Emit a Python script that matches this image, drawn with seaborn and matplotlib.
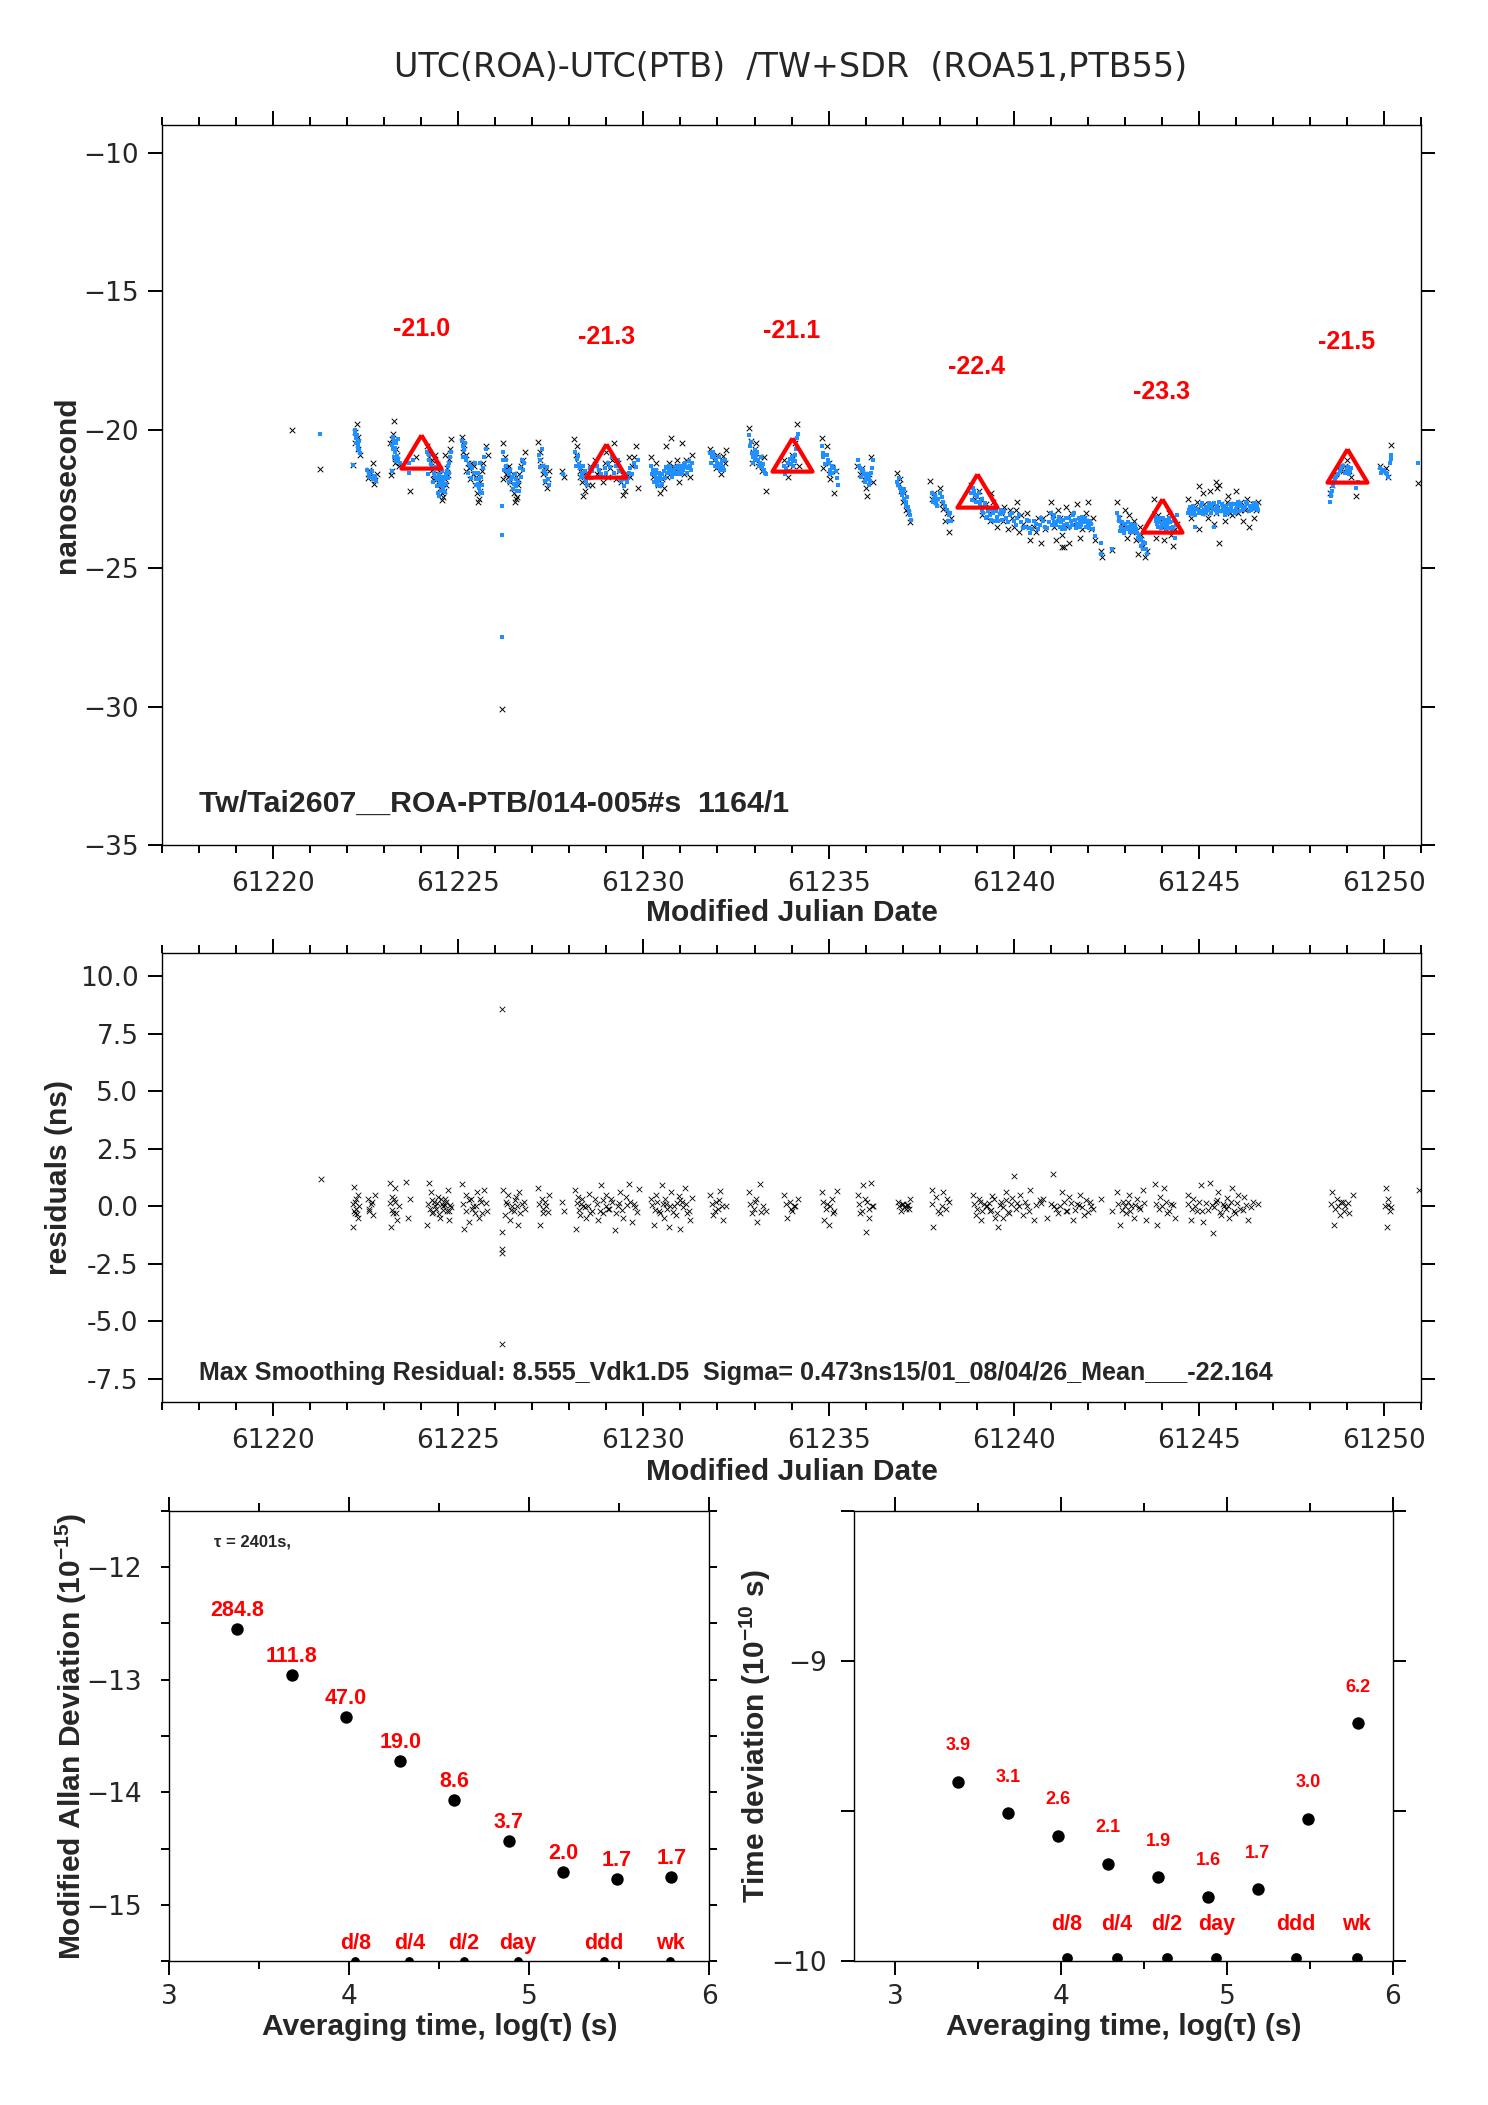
import pandas as pd
import numpy as np
import matplotlib
matplotlib.use("Agg")
import matplotlib.pyplot as plt
import seaborn as sns

# ---------------- data ----------------

# raw measurements (black x), MJD / ns
raw_points = [
    (61220.52, -20.03), (61221.27, -21.41),
    (61222.26, -19.81), (61222.30, -20.25), (61222.22, -20.50), (61222.35, -20.90), (61222.17, -21.26),
    (61222.69, -21.20), (61222.55, -21.74), (61222.75, -21.83), (61222.62, -21.62), (61222.80, -21.60),
    (61223.27, -19.69), (61223.25, -20.17), (61223.15, -20.50), (61223.35, -20.90), (61223.30, -21.00),
    (61223.20, -21.50), (61223.18, -21.64), (61223.40, -21.30),
    (61223.70, -22.22), (61223.85, -21.00),
    (61224.15, -20.60), (61224.20, -21.00), (61224.25, -21.30), (61224.30, -21.10), (61224.35, -21.60),
    (61224.40, -21.70), (61224.45, -21.90), (61224.50, -22.10), (61224.55, -22.30), (61224.60, -22.45),
    (61224.65, -21.80), (61224.70, -21.40), (61224.75, -21.05), (61224.80, -20.35), (61224.38, -20.90),
    (61224.48, -21.50), (61224.58, -21.95), (61224.68, -22.00), (61224.78, -20.70), (61224.28, -21.45),
    (61225.10, -20.25), (61225.15, -20.55), (61225.20, -20.90), (61225.25, -21.20), (61225.30, -21.40),
    (61225.35, -21.20), (61225.40, -21.60), (61225.45, -22.00), (61225.50, -22.30), (61225.55, -22.50),
    (61225.60, -21.90), (61225.65, -21.50), (61225.75, -20.60), (61225.80, -20.90), (61225.52, -22.60),
    (61226.20, -20.50), (61226.25, -21.00), (61226.30, -21.40), (61226.35, -21.70), (61226.40, -21.90),
    (61226.45, -22.10), (61226.50, -22.30), (61226.55, -22.50), (61226.60, -22.00), (61226.65, -21.60),
    (61226.70, -21.30), (61226.80, -20.80), (61226.18, -30.10), (61226.20, -21.80), (61226.58, -22.45),
    (61227.15, -20.45), (61227.20, -20.80), (61227.25, -21.30), (61227.30, -21.60), (61227.35, -21.90),
    (61227.40, -22.10), (61227.45, -21.50),
    (61227.80, -21.50), (61227.85, -21.70),
    (61228.12, -20.35), (61228.18, -20.90), (61228.22, -21.20), (61228.28, -21.50), (61228.35, -21.90),
    (61228.42, -22.20), (61228.48, -21.70), (61228.55, -21.30), (61228.60, -22.00), (61228.38, -22.40),
    (61228.70, -21.10), (61228.80, -21.50), (61228.90, -21.90), (61229.00, -20.80), (61229.10, -21.40),
    (61229.20, -20.50), (61229.30, -21.20), (61229.40, -21.90), (61229.50, -22.20), (61229.55, -21.60),
    (61229.60, -21.00), (61229.70, -21.30), (61229.80, -20.60), (61229.85, -22.10), (61229.45, -22.35),
    (61230.20, -21.00), (61230.30, -21.50), (61230.40, -22.00), (61230.45, -22.30), (61230.50, -21.80),
    (61230.60, -20.60), (61230.70, -21.20), (61230.75, -20.30), (61230.85, -21.50), (61230.95, -21.90),
    (61231.05, -20.50), (61231.15, -21.10), (61231.25, -21.70), (61231.30, -20.90), (61230.55, -22.10),
    (61231.00, -21.30),
    (61231.80, -20.70), (61231.90, -21.10), (61232.00, -20.90), (61232.10, -21.60), (61232.20, -21.20),
    (61232.22, -20.75), (61231.95, -21.40),
    (61232.85, -19.95), (61232.90, -20.40), (61232.95, -20.80), (61233.00, -21.10), (61233.05, -20.50),
    (61233.10, -21.30), (61233.20, -21.50), (61233.25, -21.00), (61233.30, -22.20),
    (61233.80, -21.10), (61233.90, -21.70), (61234.00, -20.90), (61234.10, -20.50), (61234.15, -19.80),
    (61234.20, -21.30),
    (61234.82, -20.30), (61234.85, -21.40), (61234.95, -20.60), (61235.00, -21.60), (61235.05, -21.80),
    (61235.15, -22.30), (61235.20, -21.50),
    (61235.78, -21.30), (61235.85, -21.60), (61235.95, -21.80), (61236.00, -22.10), (61236.05, -22.40),
    (61236.15, -21.00), (61236.20, -21.90),
    (61236.85, -21.55), (61236.90, -21.95), (61236.95, -22.20), (61237.00, -22.60), (61237.10, -22.90),
    (61237.20, -23.35), (61237.15, -23.00),
    (61237.75, -21.85), (61237.80, -22.50), (61237.90, -22.60), (61238.00, -22.10), (61238.10, -22.85),
    (61238.20, -23.00), (61238.25, -23.70), (61238.15, -23.30),
    (61238.85, -22.00), (61238.95, -22.50), (61239.05, -22.20), (61239.15, -23.10), (61239.25, -22.70),
    (61239.35, -23.30), (61239.45, -22.60), (61239.55, -23.50), (61239.65, -23.00), (61239.75, -22.80),
    (61239.85, -23.60), (61239.95, -23.20), (61240.05, -22.90), (61240.15, -23.70), (61240.25, -23.40),
    (61240.35, -23.00), (61240.45, -24.00), (61240.55, -23.50), (61240.65, -23.20), (61240.75, -24.10),
    (61240.85, -23.60), (61240.95, -23.00), (61239.40, -22.30), (61240.10, -22.60),
    (61241.00, -22.60), (61241.10, -23.50), (61241.20, -22.90), (61241.30, -23.80), (61241.40, -22.80),
    (61241.50, -24.10), (61241.60, -23.40), (61241.70, -22.70), (61241.80, -23.90), (61241.90, -23.20),
    (61242.00, -22.60), (61242.10, -23.60), (61242.20, -24.00), (61241.15, -24.00), (61241.30, -24.25),
    (61241.35, -24.25),
    (61242.35, -24.40), (61242.38, -24.60), (61242.65, -24.35),
    (61242.80, -22.60), (61242.85, -23.20), (61242.95, -23.50), (61243.05, -23.90), (61243.10, -23.10),
    (61243.20, -23.70), (61243.30, -24.00), (61243.35, -24.50), (61243.40, -23.50), (61243.50, -24.20),
    (61243.55, -24.60), (61243.60, -24.40), (61243.00, -22.90),
    (61243.80, -22.50), (61243.90, -23.10), (61244.00, -23.50), (61244.05, -24.00), (61244.15, -23.30),
    (61244.25, -23.80), (61244.30, -24.20), (61244.40, -23.40), (61243.85, -23.90),
    (61244.70, -22.50), (61244.80, -23.20), (61244.90, -22.80), (61245.00, -23.60), (61245.10, -22.30),
    (61245.20, -23.00), (61245.30, -22.20), (61245.40, -23.40), (61245.50, -22.10), (61245.60, -22.70),
    (61245.70, -23.30), (61245.80, -22.40), (61245.90, -23.10), (61246.00, -22.20), (61246.10, -22.90),
    (61246.20, -23.30), (61246.30, -22.50), (61246.40, -22.80), (61246.50, -23.20), (61246.60, -22.60),
    (61245.45, -21.90), (61245.55, -22.00), (61245.00, -22.05), (61246.35, -23.50), (61245.55, -24.10),
    (61248.55, -22.30), (61248.60, -22.00), (61248.65, -21.80), (61248.80, -21.30), (61248.90, -21.50),
    (61249.00, -21.10), (61249.10, -21.70), (61249.25, -22.40),
    (61249.90, -21.30), (61250.00, -21.50), (61250.10, -21.70), (61250.20, -20.55),
    (61250.92, -21.94),
]

# more raw points inside the dense clusters
raw_points_dense = [
    (61222.20, -20.10), (61222.28, -20.70), (61222.60, -21.45), (61222.72, -21.95),
    (61223.22, -20.35), (61223.32, -20.70), (61223.28, -21.20),
    (61224.22, -20.80), (61224.32, -21.80), (61224.42, -21.25), (61224.52, -21.75), (61224.62, -22.20),
    (61224.72, -21.65), (61224.56, -22.55), (61224.64, -20.90),
    (61225.12, -20.80), (61225.22, -21.50), (61225.32, -21.80), (61225.42, -21.30), (61225.48, -21.70),
    (61225.58, -22.20), (61225.68, -21.20),
    (61226.28, -21.60), (61226.38, -21.30), (61226.48, -21.60), (61226.52, -22.60), (61226.62, -21.80),
    (61226.75, -21.10),
    (61227.22, -21.10), (61227.32, -21.40), (61227.42, -21.80),
    (61228.20, -20.60), (61228.30, -21.70), (61228.40, -21.60), (61228.50, -22.00),
    (61228.75, -21.60), (61228.95, -21.20), (61229.05, -21.70), (61229.15, -21.10), (61229.25, -21.80),
    (61229.35, -21.50), (61229.65, -21.70), (61229.75, -21.00),
    (61230.25, -21.70), (61230.35, -21.20), (61230.65, -21.70), (61230.80, -21.30), (61230.90, -21.10),
    (61231.10, -21.60), (61231.20, -21.30),
    (61232.05, -21.30), (61232.15, -20.95),
    (61232.92, -21.20), (61233.02, -20.70), (61233.15, -21.00),
    (61233.85, -21.40), (61233.95, -21.20), (61234.05, -21.30),
    (61235.02, -21.20), (61235.10, -21.35),
    (61235.90, -21.40), (61236.10, -21.60),
    (61237.05, -22.30), (61236.92, -21.80),
    (61237.85, -22.30), (61238.05, -22.70), (61238.30, -23.20),
    (61239.10, -22.50), (61239.30, -22.90), (61239.50, -22.90), (61239.70, -23.30), (61239.90, -22.90),
    (61240.00, -23.50), (61240.20, -23.10), (61240.40, -23.50), (61240.60, -23.70), (61240.80, -23.20),
    (61241.05, -23.10), (61241.25, -23.20), (61241.45, -23.50), (61241.55, -23.00), (61241.75, -23.30),
    (61241.85, -23.60), (61241.95, -23.00), (61242.05, -23.30), (61242.15, -23.20),
    (61242.90, -23.40), (61243.15, -23.50), (61243.25, -23.30), (61243.45, -23.80),
    (61243.95, -23.30), (61244.10, -23.60), (61244.20, -23.00), (61244.35, -23.60),
    (61244.75, -22.90), (61244.85, -23.00), (61244.95, -22.60), (61245.05, -22.90), (61245.15, -22.70),
    (61245.25, -23.20), (61245.35, -22.80), (61245.45, -23.00), (61245.65, -22.90), (61245.75, -22.60),
    (61245.85, -23.00), (61245.95, -22.70), (61246.05, -23.00), (61246.15, -22.60), (61246.25, -22.90),
    (61246.45, -22.70), (61246.55, -22.90),
    (61248.70, -21.60), (61248.95, -21.30), (61249.05, -21.50),
    (61250.05, -21.40),
]

# smoothed values (blue dots), MJD / ns
smooth_points = [
    (61221.27, -20.17),
    (61222.20, -20.00), (61222.22, -20.15), (61222.25, -20.30), (61222.28, -20.45), (61222.30, -20.60),
    (61222.33, -20.75), (61222.35, -20.85), (61222.17, -21.28),
    (61222.53, -21.46), (61222.60, -21.56), (61222.75, -21.72), (61222.72, -21.67), (61222.78, -21.86),
    (61223.25, -20.25), (61223.27, -20.40), (61223.22, -20.55), (61223.30, -20.65), (61223.28, -20.80),
    (61223.35, -20.95), (61223.38, -21.05), (61223.42, -21.20), (61223.20, -21.50),
    (61223.67, -21.20), (61223.78, -21.10), (61223.66, -21.55),
    (61224.15, -20.80), (61224.20, -21.10), (61224.25, -21.25), (61224.30, -21.40), (61224.35, -21.55),
    (61224.38, -21.70), (61224.42, -21.80), (61224.45, -21.75), (61224.50, -21.90), (61224.52, -22.00),
    (61224.55, -21.85), (61224.58, -22.10), (61224.60, -22.00), (61224.62, -21.80), (61224.65, -21.70),
    (61224.68, -21.60), (61224.70, -21.50), (61224.72, -21.30), (61224.75, -21.20), (61224.78, -21.00),
    (61224.80, -20.80), (61224.45, -22.30), (61224.48, -22.40),
    (61225.10, -20.40), (61225.12, -20.60), (61225.15, -20.75), (61225.20, -21.00), (61225.22, -21.10),
    (61225.28, -21.25), (61225.32, -21.30), (61225.38, -21.40), (61225.42, -21.55), (61225.48, -21.80),
    (61225.52, -21.95), (61225.55, -22.10), (61225.58, -22.25), (61225.62, -21.70), (61225.68, -21.40),
    (61225.75, -20.70), (61225.60, -21.20),
    (61226.20, -20.80), (61226.22, -21.10), (61226.28, -21.30), (61226.32, -21.50), (61226.38, -21.60),
    (61226.42, -21.80), (61226.45, -21.70), (61226.50, -21.95), (61226.55, -22.05), (61226.58, -22.20),
    (61226.62, -21.90), (61226.68, -21.40), (61226.72, -21.10), (61226.78, -21.20), (61226.18, -22.76),
    (61226.18, -23.80), (61226.18, -27.50),
    (61227.18, -20.90), (61227.22, -21.10), (61227.28, -21.30), (61227.32, -21.50), (61227.38, -21.60),
    (61227.42, -21.80),
    (61227.82, -21.60),
    (61228.15, -20.80), (61228.20, -21.05), (61228.25, -21.25), (61228.30, -21.40), (61228.35, -21.55),
    (61228.40, -21.70), (61228.45, -21.85), (61228.50, -21.60), (61228.55, -21.40), (61228.60, -21.50),
    (61228.75, -21.30), (61228.85, -21.60), (61228.95, -21.40), (61229.05, -21.20), (61229.15, -21.00),
    (61229.25, -21.30), (61229.35, -21.50), (61229.45, -21.70), (61229.50, -21.80), (61229.55, -21.90),
    (61229.65, -21.40), (61229.75, -21.20), (61229.85, -21.10), (61229.40, -21.85), (61229.60, -21.55),
    (61230.20, -21.30), (61230.25, -21.45), (61230.30, -21.60), (61230.35, -21.75), (61230.40, -21.85),
    (61230.45, -21.70), (61230.50, -21.60), (61230.55, -21.50), (61230.60, -21.35), (61230.65, -21.40),
    (61230.70, -21.50), (61230.75, -21.55), (61230.80, -21.45), (61230.85, -21.35), (61230.90, -21.40),
    (61230.95, -21.50), (61231.00, -21.45), (61231.05, -21.30), (61231.10, -21.25), (61231.15, -21.35),
    (61231.20, -21.40), (61231.25, -21.30), (61231.30, -21.20), (61230.45, -22.05), (61230.50, -21.95),
    (61231.80, -20.85), (61231.85, -21.00), (61231.90, -20.95), (61231.95, -21.10), (61232.00, -21.20),
    (61232.05, -21.30), (61232.10, -21.25), (61232.15, -21.35), (61232.20, -21.10),
    (61232.85, -20.20), (61232.88, -20.60), (61232.92, -20.85), (61232.95, -21.00), (61233.00, -20.75),
    (61233.05, -20.90), (61233.10, -21.10), (61233.15, -21.20), (61233.20, -21.35), (61233.25, -21.45),
    (61233.30, -21.60),
    (61233.80, -21.30), (61233.82, -21.60), (61233.90, -21.20), (61233.95, -21.05), (61234.00, -21.00),
    (61234.05, -21.10), (61234.10, -20.90), (61234.15, -20.30), (61234.18, -20.15),
    (61234.82, -20.60), (61234.84, -20.85), (61234.86, -21.00), (61234.95, -20.90), (61235.00, -21.20),
    (61235.05, -21.45), (61235.10, -21.55), (61235.20, -21.50), (61235.25, -22.00),
    (61235.80, -21.10), (61235.85, -21.40), (61235.90, -21.50), (61235.95, -21.60), (61236.00, -21.75),
    (61236.05, -21.80), (61236.10, -21.70), (61236.15, -21.55), (61236.20, -21.10),
    (61236.85, -21.90), (61236.88, -22.00), (61236.92, -22.10), (61236.95, -22.20), (61237.00, -22.30),
    (61237.05, -22.50), (61237.10, -22.60), (61237.15, -22.80), (61237.20, -23.10),
    (61237.78, -22.30), (61237.85, -22.50), (61237.90, -22.65), (61237.95, -22.50), (61238.00, -22.30),
    (61238.10, -22.60), (61238.20, -22.90), (61238.25, -23.10), (61238.30, -23.30),
    (61238.85, -22.30), (61238.90, -22.10), (61238.95, -22.35), (61239.00, -22.45), (61239.10, -22.60),
    (61239.15, -22.90), (61239.20, -22.80), (61239.30, -22.95), (61239.35, -23.10), (61239.45, -23.00),
    (61239.55, -23.15), (61239.65, -22.90), (61239.70, -23.00), (61239.80, -23.20), (61239.90, -23.10),
    (61240.00, -23.30), (61240.10, -23.20), (61240.20, -23.35), (61240.30, -23.50), (61240.40, -23.30),
    (61240.50, -23.60), (61240.60, -23.40), (61240.70, -23.45), (61240.80, -23.30), (61240.90, -23.55),
    (61239.25, -23.20), (61240.45, -23.75),
    (61241.00, -23.00), (61241.05, -23.20), (61241.10, -23.35), (61241.20, -23.30), (61241.25, -23.50),
    (61241.35, -23.45), (61241.40, -23.20), (61241.45, -23.40), (61241.55, -23.30), (61241.60, -23.10),
    (61241.65, -23.25), (61241.70, -23.40), (61241.80, -23.30), (61241.85, -23.15), (61241.90, -23.35),
    (61241.95, -23.50), (61242.00, -23.45), (61242.05, -23.30), (61242.15, -23.60), (61241.30, -23.60),
    (61242.35, -24.10), (61242.65, -24.30), (61242.36, -24.50),
    (61242.80, -23.00), (61242.85, -23.30), (61242.90, -23.50), (61242.95, -23.60), (61243.00, -23.40),
    (61243.05, -23.50), (61243.10, -23.60), (61243.15, -23.70), (61243.20, -23.55), (61243.30, -23.60),
    (61243.35, -23.90), (61243.40, -24.00), (61243.45, -24.20), (61243.50, -24.30), (61243.55, -24.10),
    (61243.60, -24.50),
    (61243.80, -23.00), (61243.85, -23.30), (61243.90, -23.50), (61243.95, -23.20), (61244.00, -23.40),
    (61244.05, -23.30), (61244.10, -23.60), (61244.15, -23.40), (61244.20, -23.20), (61244.30, -23.50),
    (61244.35, -23.90), (61244.40, -23.10),
    (61244.70, -23.00), (61244.75, -22.80), (61244.85, -22.90), (61244.90, -23.10), (61245.00, -23.00),
    (61245.05, -22.75), (61245.15, -22.90), (61245.20, -23.00), (61245.30, -22.80), (61245.35, -22.70),
    (61245.45, -22.90), (61245.50, -22.75), (61245.55, -22.60), (61245.65, -22.80), (61245.70, -23.10),
    (61245.75, -22.90), (61245.85, -22.70), (61245.90, -22.95), (61246.00, -22.85), (61246.05, -22.60),
    (61246.15, -22.75), (61246.20, -22.90), (61246.30, -22.70), (61246.35, -22.95), (61246.45, -22.80),
    (61246.55, -22.70), (61246.60, -22.90), (61245.40, -23.50), (61244.90, -23.50),
    (61248.55, -22.60), (61248.58, -22.40), (61248.60, -22.20), (61248.65, -21.90), (61248.70, -21.70),
    (61248.80, -21.50), (61248.90, -21.30), (61249.00, -21.45), (61249.05, -21.60), (61249.25, -22.10),
    (61249.30, -21.90),
    (61249.90, -21.40), (61249.95, -21.50), (61250.05, -21.55), (61250.10, -21.70), (61250.15, -21.20),
    (61250.20, -20.90),
    (61250.92, -21.22),
]

# more smoothed points inside the dense blobs
smooth_points_dense = [
    (61222.24, -20.50), (61222.27, -20.20), (61222.32, -20.40), (61222.29, -20.70),
    (61222.58, -21.70), (61222.66, -21.50), (61222.70, -21.80),
    (61223.24, -20.70), (61223.33, -20.50), (61223.26, -21.00), (61223.36, -20.35), (61223.31, -21.15),
    (61224.18, -21.60), (61224.22, -20.90), (61224.33, -21.90), (61224.40, -21.35), (61224.47, -21.60),
    (61224.53, -22.20), (61224.57, -21.50), (61224.63, -22.25), (61224.66, -21.95), (61224.71, -21.75),
    (61224.74, -21.55), (61224.56, -21.70), (61224.43, -22.05),
    (61225.14, -21.00), (61225.18, -20.50), (61225.26, -21.55), (61225.34, -21.75), (61225.44, -21.20),
    (61225.47, -22.00), (61225.53, -21.55), (61225.57, -21.80), (61225.65, -22.00), (61225.70, -21.00),
    (61225.63, -22.30),
    (61226.24, -21.45), (61226.30, -21.10), (61226.36, -21.90), (61226.40, -21.45), (61226.47, -22.15),
    (61226.52, -21.60), (61226.57, -21.80), (61226.64, -22.20), (61226.70, -21.70), (61226.75, -21.45),
    (61227.20, -21.35), (61227.26, -20.70), (61227.34, -21.85), (61227.40, -21.35), (61227.44, -22.00),
    (61228.17, -21.30), (61228.23, -20.95), (61228.32, -21.70), (61228.37, -21.30), (61228.43, -21.50),
    (61228.48, -22.00), (61228.58, -21.75),
    (61228.80, -21.45), (61228.90, -21.70), (61229.00, -21.55), (61229.10, -21.35), (61229.20, -21.55),
    (61229.30, -21.10), (61229.42, -21.50), (61229.48, -22.05), (61229.58, -21.75), (61229.70, -21.60),
    (61229.80, -21.35), (61229.52, -21.60),
    (61230.22, -21.60), (61230.28, -21.90), (61230.33, -21.45), (61230.38, -22.00), (61230.42, -21.55),
    (61230.48, -21.80), (61230.58, -21.75), (61230.63, -21.55), (61230.68, -21.30), (61230.73, -21.35),
    (61230.78, -21.70), (61230.83, -21.55), (61230.88, -21.60), (61230.93, -21.30), (61230.98, -21.60),
    (61231.03, -21.55), (61231.08, -21.45), (61231.13, -21.20), (61231.18, -21.55), (61231.23, -21.15),
    (61231.28, -21.45),
    (61231.83, -21.20), (61231.88, -20.80), (61231.98, -21.35), (61232.03, -21.00), (61232.08, -21.45),
    (61232.13, -21.15), (61232.18, -21.45), (61231.92, -21.30),
    (61232.90, -20.45), (61232.97, -21.20), (61233.02, -21.05), (61233.08, -20.80), (61233.12, -21.30),
    (61233.18, -21.00), (61233.22, -21.25), (61233.28, -21.55),
    (61233.85, -21.40), (61233.92, -21.50), (61233.98, -21.25), (61234.03, -21.30), (61234.08, -21.15),
    (61234.12, -20.70),
    (61234.90, -21.25), (61234.98, -21.10), (61235.03, -21.60), (61235.08, -21.30), (61235.15, -21.40),
    (61235.22, -21.75),
    (61235.82, -21.30), (61235.88, -21.70), (61235.93, -21.45), (61235.98, -21.90), (61236.03, -21.60),
    (61236.08, -22.00), (61236.13, -21.85), (61236.18, -21.40),
    (61236.90, -21.75), (61236.97, -22.35), (61237.03, -22.15), (61237.08, -22.75), (61237.13, -22.45),
    (61237.18, -22.95), (61237.22, -23.25),
    (61237.82, -22.60), (61237.88, -22.35), (61237.93, -22.75), (61238.05, -22.45), (61238.15, -22.75),
    (61238.22, -23.30), (61238.28, -23.00),
    (61238.88, -22.55), (61238.93, -22.20), (61238.98, -22.60), (61239.05, -22.30), (61239.08, -22.75),
    (61239.13, -22.50), (61239.18, -23.00), (61239.23, -22.65), (61239.28, -23.15), (61239.33, -22.85),
    (61239.38, -23.25), (61239.43, -22.85), (61239.48, -23.30), (61239.52, -22.95), (61239.58, -23.30),
    (61239.62, -23.05), (61239.68, -23.25), (61239.75, -22.95), (61239.85, -23.35), (61239.95, -23.00),
    (61240.05, -23.45), (61240.15, -23.10), (61240.25, -23.55), (61240.35, -23.25), (61240.42, -23.55),
    (61240.55, -23.30), (61240.65, -23.60), (61240.75, -23.20), (61240.85, -23.50), (61240.95, -23.35),
    (61241.03, -23.45), (61241.08, -23.10), (61241.15, -23.45), (61241.23, -23.15), (61241.28, -23.35),
    (61241.33, -23.25), (61241.38, -23.60), (61241.48, -23.20), (61241.52, -23.50), (61241.58, -23.45),
    (61241.63, -23.00), (61241.68, -23.55), (61241.75, -23.20), (61241.78, -23.50), (61241.83, -23.45),
    (61241.88, -23.25), (61241.93, -23.20), (61241.98, -23.30), (61242.03, -23.55), (61242.10, -23.40),
    (61242.20, -23.85),
    (61242.83, -23.15), (61242.88, -23.65), (61242.93, -23.35), (61242.98, -23.75), (61243.03, -23.60),
    (61243.08, -23.35), (61243.13, -23.55), (61243.18, -23.40), (61243.23, -23.70), (61243.28, -23.45),
    (61243.33, -23.75), (61243.38, -23.80), (61243.43, -23.95), (61243.48, -24.05), (61243.58, -24.30),
    (61243.83, -23.15), (61243.88, -23.40), (61243.93, -23.35), (61243.98, -23.55), (61244.03, -23.20),
    (61244.08, -23.45), (61244.13, -23.25), (61244.18, -23.55), (61244.23, -23.35), (61244.28, -23.65),
    (61244.33, -23.30), (61244.38, -23.45),
    (61244.73, -22.90), (61244.78, -23.05), (61244.83, -22.75), (61244.88, -23.00), (61244.95, -22.85),
    (61245.03, -22.95), (61245.08, -22.65), (61245.12, -23.05), (61245.18, -22.80), (61245.25, -22.90),
    (61245.28, -22.65), (61245.33, -23.00), (61245.38, -22.85), (61245.42, -22.65), (61245.48, -23.00),
    (61245.53, -22.85), (61245.58, -22.95), (61245.62, -22.70), (61245.68, -22.95), (61245.73, -22.75),
    (61245.78, -23.00), (61245.82, -22.85), (61245.88, -22.80), (61245.95, -22.70), (61245.98, -23.00),
    (61246.03, -22.75), (61246.08, -22.95), (61246.12, -22.65), (61246.18, -22.85), (61246.25, -22.80),
    (61246.28, -22.60), (61246.38, -22.75), (61246.42, -22.90), (61246.48, -22.65), (61246.52, -22.85),
    (61246.58, -22.75),
    (61248.57, -22.30), (61248.62, -22.05), (61248.68, -21.80), (61248.75, -21.60), (61248.85, -21.40),
    (61248.95, -21.55), (61249.02, -21.35), (61249.08, -21.50), (61249.12, -21.40),
    (61249.92, -21.55), (61250.00, -21.45), (61250.08, -21.60), (61250.18, -21.05),
]

# 5-day means (red triangles)
tri_mjd = [61224, 61229, 61234, 61239, 61244, 61249]
tri_ns = [-21.0, -21.3, -21.1, -22.4, -23.3, -21.5]

# smoothing residuals, MJD / ns
resid_points = [
    (61221.30, 1.20),
    (61222.15, -0.90), (61222.18, 0.85), (61222.20, -0.30), (61222.22, 0.20), (61222.25, -0.10),
    (61222.28, 0.50), (61222.30, -0.50),
    (61222.55, 0.30), (61222.60, -0.20), (61222.65, 0.10), (61222.70, -0.40), (61222.75, 0.50),
    (61223.15, 1.00), (61223.18, -0.90), (61223.20, 0.40), (61223.25, -0.30), (61223.28, 0.20),
    (61223.30, 0.80), (61223.35, -0.60), (61223.40, 0.00),
    (61223.60, 1.05), (61223.65, -0.50), (61223.70, 0.30),
    (61224.15, -0.80), (61224.20, 1.00), (61224.25, 0.60), (61224.30, -0.30), (61224.35, 0.20),
    (61224.40, -0.10), (61224.45, 0.40), (61224.50, -0.50), (61224.55, 0.10), (61224.60, 0.00),
    (61224.65, 0.30), (61224.70, -0.20), (61224.72, 0.70), (61224.75, -0.60), (61224.78, 0.05),
    (61224.80, -0.05),
    (61225.10, 0.95), (61225.15, -1.00), (61225.20, 0.50), (61225.28, -0.70), (61225.35, 0.30),
    (61225.40, 0.00), (61225.45, -0.30), (61225.50, 0.60), (61225.55, -0.50), (61225.62, 0.20),
    (61225.70, 0.70), (61225.78, -0.20),
    (61226.18, 8.55), (61226.18, -1.10), (61226.18, -1.85), (61226.18, -2.05), (61226.18, -6.00),
    (61226.22, 0.70), (61226.25, -0.40),
    (61226.30, 0.20), (61226.35, 0.50), (61226.40, -0.60), (61226.45, 0.00), (61226.50, -0.20),
    (61226.55, 0.40), (61226.60, -0.80), (61226.65, 0.60), (61226.72, 0.10), (61226.80, -0.10),
    (61227.15, 0.80), (61227.20, -0.80), (61227.25, 0.30), (61227.30, -0.30), (61227.38, 0.00),
    (61227.45, 0.50),
    (61227.80, 0.20), (61227.85, -0.20),
    (61228.15, 0.70), (61228.18, -1.00), (61228.22, 0.40), (61228.28, -0.40), (61228.32, 0.10),
    (61228.38, 0.00), (61228.45, -0.50), (61228.52, 0.55), (61228.60, -0.20),
    (61228.70, 0.30), (61228.78, -0.60), (61228.85, 0.90), (61228.92, -0.30), (61229.00, 0.50),
    (61229.08, -0.10), (61229.15, 0.20), (61229.22, -1.05), (61229.30, 0.00), (61229.38, 0.60),
    (61229.45, -0.50), (61229.52, 0.40), (61229.60, 0.95), (61229.68, -0.70), (61229.75, 0.10),
    (61229.82, -0.25), (61229.88, 0.75),
    (61230.20, 0.30), (61230.28, -0.80), (61230.35, 0.50), (61230.42, -0.20), (61230.50, 0.90),
    (61230.55, -0.50), (61230.62, 0.10), (61230.70, -0.90), (61230.75, 0.60), (61230.82, 0.00),
    (61230.88, -0.40), (61230.95, 0.45), (61231.00, -1.00), (61231.05, 0.20), (61231.12, 0.80),
    (61231.18, -0.30), (61231.25, -0.60), (61231.30, 0.35),
    (61231.80, 0.50), (61231.88, -0.40), (61231.95, 0.20), (61232.02, -0.10), (61232.08, 0.65),
    (61232.15, -0.60), (61232.22, 0.00),
    (61232.85, 0.60), (61232.92, -0.30), (61233.00, 0.20), (61233.08, -0.70), (61233.15, 0.95),
    (61233.22, 0.00), (61233.30, -0.20),
    (61233.80, 0.50), (61233.88, -0.50), (61233.95, 0.20), (61234.02, -0.20), (61234.10, 0.00),
    (61234.18, 0.30),
    (61234.82, 0.60), (61234.88, -0.60), (61234.95, 0.10), (61235.02, -0.80), (61235.08, 0.30),
    (61235.15, -0.20), (61235.22, 0.65),
    (61235.80, 0.50), (61235.85, -0.30), (61235.92, 0.90), (61236.00, -1.10), (61236.05, 0.20),
    (61236.10, -0.50), (61236.15, 1.00), (61236.20, 0.00),
    (61236.88, 0.20), (61236.95, -0.20), (61237.00, 0.10), (61237.08, -0.10), (61237.15, 0.05),
    (61237.20, 0.30),
    (61237.78, 0.70), (61237.82, -0.90), (61237.90, 0.40), (61238.00, -0.30), (61238.08, 0.60),
    (61238.18, -0.10), (61238.25, 0.20),
    (61238.90, 0.50), (61238.98, -0.40), (61239.05, 0.30), (61239.12, -0.60), (61239.20, 0.10),
    (61239.28, 0.00), (61239.35, -0.20), (61239.42, 0.45), (61239.50, -0.50), (61239.58, -0.90),
    (61239.65, 0.20), (61239.72, -0.50), (61239.80, 0.60), (61239.88, -0.30), (61239.95, 0.35),
    (61240.02, 1.30), (61240.10, 0.15), (61240.18, 0.50), (61240.25, -0.40), (61240.35, 0.00),
    (61240.45, 0.70), (61240.55, -0.60), (61240.70, 0.25),
    (61240.80, 0.30), (61240.90, -0.50), (61241.05, 1.40), (61241.10, 0.00), (61241.20, -0.30),
    (61241.30, 0.60), (61241.40, -0.20), (61241.50, 0.40), (61241.60, -0.60), (61241.70, 0.10),
    (61241.80, 0.50), (61241.90, -0.40), (61242.05, 0.20), (61242.15, -0.10),
    (61242.35, 0.30), (61242.65, -0.20),
    (61242.80, 0.60), (61242.88, -0.80), (61242.95, 0.20), (61243.02, -0.30), (61243.10, 0.50),
    (61243.18, 0.00), (61243.25, -0.50), (61243.32, 0.30), (61243.40, -0.10), (61243.48, 0.70),
    (61243.58, -0.60),
    (61243.82, 0.95), (61243.88, -0.80), (61243.95, 0.40), (61244.05, 0.80), (61244.15, -0.30),
    (61244.25, 0.10), (61244.35, -0.50),
    (61244.70, 0.50), (61244.78, -0.60), (61244.85, 0.30), (61244.95, -0.20), (61245.05, 0.90),
    (61245.12, -0.70), (61245.30, 1.00), (61245.38, -1.15), (61245.45, 0.20), (61245.52, 0.60),
    (61245.60, -0.40), (61245.68, 0.00), (61245.75, 0.35), (61245.82, -0.50), (61245.90, 0.80),
    (61245.98, -0.30), (61246.05, 0.50), (61246.12, -0.10), (61246.22, 0.40), (61246.32, -0.60),
    (61246.45, 0.20), (61246.60, 0.10),
    (61248.60, 0.60), (61248.65, -0.80), (61248.72, 0.30), (61248.80, -0.40), (61248.88, 0.20),
    (61248.95, 0.00), (61249.05, -0.30), (61249.15, 0.50),
    (61250.05, 0.80), (61250.08, -0.90), (61250.12, 0.30), (61250.15, -0.20),
    (61250.95, 0.70),
]

# residual cores near zero inside each cluster
resid_points_dense = [
    (61222.16, 0.10), (61222.19, -0.20), (61222.23, 0.30), (61222.27, -0.35), (61222.32, 0.00),
    (61222.58, -0.10), (61222.68, 0.20),
    (61223.16, 0.15), (61223.22, -0.15), (61223.27, 0.30), (61223.33, -0.30),
    (61224.18, 0.10), (61224.23, -0.10), (61224.28, 0.25), (61224.33, -0.25), (61224.38, 0.00),
    (61224.43, 0.15), (61224.48, -0.35), (61224.53, 0.30), (61224.58, -0.15), (61224.63, 0.05),
    (61224.68, 0.20), (61224.76, -0.20),
    (61225.12, 0.10), (61225.22, -0.20), (61225.30, 0.25), (61225.38, -0.10), (61225.48, 0.00),
    (61225.58, 0.30), (61225.65, -0.30), (61225.75, 0.15),
    (61226.32, 0.10), (61226.42, -0.15), (61226.52, 0.25), (61226.58, 0.00), (61226.68, -0.30),
    (61226.78, 0.20),
    (61227.18, 0.10), (61227.28, -0.10), (61227.35, 0.20), (61227.42, -0.25),
    (61228.20, 0.15), (61228.25, -0.15), (61228.35, 0.30), (61228.42, -0.05), (61228.50, 0.00),
    (61228.56, -0.30),
    (61228.74, 0.10), (61228.82, -0.20), (61228.90, 0.25), (61228.98, 0.00), (61229.05, -0.10),
    (61229.12, 0.30), (61229.25, -0.30), (61229.35, 0.15), (61229.42, -0.15), (61229.55, 0.05),
    (61229.65, 0.20), (61229.78, -0.05),
    (61230.22, 0.05), (61230.32, -0.15), (61230.38, 0.20), (61230.45, -0.30), (61230.52, 0.10),
    (61230.58, 0.30), (61230.65, -0.10), (61230.72, 0.00), (61230.80, -0.25), (61230.90, 0.15),
    (61230.98, 0.25), (61231.08, -0.05), (61231.15, 0.10), (61231.22, -0.20),
    (61231.85, 0.10), (61231.92, -0.20), (61232.05, 0.25), (61232.12, 0.00),
    (61232.88, 0.10), (61232.98, -0.10), (61233.05, 0.30), (61233.18, -0.25),
    (61233.85, 0.10), (61233.98, -0.10), (61234.06, 0.00),
    (61234.85, 0.20), (61234.92, -0.10), (61235.05, 0.00), (61235.12, -0.30),
    (61235.82, 0.10), (61235.90, -0.20), (61235.98, 0.30), (61236.08, -0.10), (61236.18, 0.00),
    (61236.90, 0.00), (61236.98, 0.10), (61237.05, -0.05), (61237.12, 0.05), (61237.18, -0.10),
    (61237.80, 0.10), (61237.95, -0.20), (61238.05, 0.00), (61238.20, 0.30),
    (61238.92, 0.10), (61239.00, -0.10), (61239.08, 0.20), (61239.15, -0.20), (61239.25, 0.00),
    (61239.32, 0.15), (61239.40, -0.15), (61239.48, 0.30), (61239.55, -0.30), (61239.62, 0.05),
    (61239.70, -0.05), (61239.78, 0.25), (61239.85, -0.25), (61239.92, 0.10), (61240.05, -0.10),
    (61240.15, 0.00), (61240.30, 0.20), (61240.40, -0.20), (61240.60, 0.05), (61240.75, 0.15),
    (61241.00, 0.10), (61241.15, -0.10), (61241.25, 0.00), (61241.35, 0.20), (61241.45, -0.20),
    (61241.55, 0.15), (61241.65, -0.15), (61241.75, 0.05), (61241.85, -0.05), (61241.95, 0.25),
    (61242.00, -0.25), (61242.10, 0.00),
    (61242.82, 0.10), (61242.92, -0.15), (61243.00, 0.00), (61243.08, 0.20), (61243.15, -0.20),
    (61243.28, 0.05), (61243.38, -0.05), (61243.52, 0.15),
    (61243.85, 0.10), (61243.92, -0.10), (61244.00, 0.00), (61244.10, 0.20), (61244.20, -0.20),
    (61244.30, 0.05),
    (61244.72, 0.10), (61244.82, -0.10), (61244.90, 0.00), (61245.00, 0.20), (61245.08, -0.20),
    (61245.18, 0.15), (61245.25, -0.15), (61245.35, 0.05), (61245.42, -0.05), (61245.50, 0.25),
    (61245.58, -0.25), (61245.65, 0.10), (61245.72, -0.10), (61245.80, 0.00), (61245.88, 0.20),
    (61245.95, -0.20), (61246.02, 0.15), (61246.18, -0.15), (61246.28, 0.05), (61246.40, -0.05),
    (61248.58, 0.10), (61248.68, -0.10), (61248.75, 0.00), (61248.85, 0.20), (61248.92, -0.20),
    (61249.02, 0.15),
    (61250.02, 0.00), (61250.10, 0.05), (61250.18, -0.05),
]

# stability plots: log10(tau) and log10(deviation)
tau_log = [3.380, 3.681, 3.982, 4.283, 4.584, 4.885, 5.186, 5.487, 5.788]
mdev_log = [-12.548, -12.955, -13.330, -13.723, -14.066, -14.434, -14.710, -14.770, -14.756]
mdev_labels = ["284.8", "111.8", "47.0", "19.0", "8.6", "3.7", "2.0", "1.7", "1.7"]
tdev_log = [-9.402, -9.507, -9.583, -9.676, -9.721, -9.785, -9.760, -9.526, -9.208]
tdev_labels = ["3.9", "3.1", "2.6", "2.1", "1.9", "1.6", "1.7", "3.0", "6.2"]

# reference averaging times
span_names = ["d/8", "d/4", "d/2", "day", "ddd", "wk"]
span_log = [4.033, 4.334, 4.635, 4.936, 5.414, 5.782]

TITLE = "UTC(ROA)-UTC(PTB)  /TW+SDR  (ROA51,PTB55)"
NOTE_TOP = "Tw/Tai2607__ROA-PTB/014-005#s  1164/1"
NOTE_MID = "Max Smoothing Residual: 8.555_Vdk1.D5  Sigma= 0.473ns15/01_08/04/26_Mean___-22.164"

# ---------------- drawing ----------------

sns.set_style("ticks")
plt.rcParams["font.family"] = ["DejaVu Sans"]
plt.rcParams["mathtext.fontset"] = "custom"
plt.rcParams["mathtext.bf"] = "Liberation Sans:bold"
plt.rcParams["mathtext.rm"] = "Liberation Sans:bold"

BOLD = dict(family="Liberation Sans", fontweight="bold")
BLUE = "#1E90FF"
LAB = 21.6


def StyleAxes(ax, ylen=10, ypad=7):
    for sp in ax.spines.values():
        sp.set_linewidth(1.0)
        sp.set_color("black")
    ax.tick_params(which="both", direction="out", top=True, right=True,
                   labelsize=19, width=1.4, color="black")
    ax.tick_params(axis="x", which="major", length=10, pad=8.5)
    ax.tick_params(axis="x", which="minor", length=6)
    ax.tick_params(axis="y", which="major", length=ylen, pad=ypad)
    ax.tick_params(axis="y", which="minor", length=ylen)


fig = plt.figure(figsize=(14.88, 21.05), dpi=100)

ax1 = fig.add_axes([0.1089, 0.5986, 0.8461, 0.3420])
ax2 = fig.add_axes([0.1089, 0.3340, 0.8461, 0.2133])
ax3 = fig.add_axes([0.1136, 0.0684, 0.3632, 0.2138])
ax4 = fig.add_axes([0.5739, 0.0684, 0.3622, 0.2138])

fig.text(0.5316, 0.9680, TITLE, ha="center", va="center", fontsize=24)

# ---- top panel: time differences
raw = pd.DataFrame(raw_points + raw_points_dense, columns=["mjd", "ns"])
smooth = pd.DataFrame(smooth_points + smooth_points_dense, columns=["mjd", "ns"])

sns.scatterplot(data=raw, x="mjd", y="ns", ax=ax1, marker="x", color="black",
                s=16, linewidth=0.7, zorder=2, legend=False)
sns.scatterplot(data=smooth, x="mjd", y="ns", ax=ax1, marker="s", color=BLUE,
                s=8, linewidth=0, zorder=3, legend=False)

tri_marker = [(0, 1), (-0.9, -0.5), (0.9, -0.5), (0, 1)]
ax1.plot(tri_mjd, tri_ns, linestyle="none", marker=tri_marker, ms=32,
         mfc="none", mec="red", mew=3, zorder=4)
for m, v in zip(tri_mjd, tri_ns):
    ax1.text(m, v + 4.65, f"{v:.1f}", color="red", ha="center", va="center",
             fontsize=18, **BOLD)

ax1.text(0.029, 0.046, NOTE_TOP, transform=ax1.transAxes, fontsize=21.8,
         va="baseline", **BOLD)

ax1.set_xlim(61217, 61251)
ax1.set_ylim(-35, -9)
ax1.set_xticks(range(61220, 61251, 5))
ax1.set_xticks(range(61217, 61252), minor=True)
ax1.set_yticks([-10, -15, -20, -25, -30, -35])
ax1.set_xlabel("Modified Julian Date", fontsize=LAB, **BOLD)
ax1.set_ylabel("nanosecond", fontsize=LAB, **BOLD)
ax1.xaxis.set_label_coords(0.5, -0.075)
ax1.yaxis.set_label_coords(-0.064, 0.5)
StyleAxes(ax1)

# ---- middle panel: residuals
resid = pd.DataFrame(resid_points + resid_points_dense, columns=["mjd", "res"])
sns.scatterplot(data=resid, x="mjd", y="res", ax=ax2, marker="x", color="black",
                s=16, linewidth=0.6, legend=False)
ax2.text(0.029, 0.049, NOTE_MID, transform=ax2.transAxes, fontsize=18.1,
         va="baseline", **BOLD)
ax2.set_xlim(61217, 61251)
ax2.set_ylim(-8.5, 11.0)
ax2.set_xticks(range(61220, 61251, 5))
ax2.set_xticks(range(61217, 61252), minor=True)
ax2.set_yticks([10.0, 7.5, 5.0, 2.5, 0.0, -2.5, -5.0, -7.5])
ax2.yaxis.set_major_formatter(matplotlib.ticker.FormatStrFormatter("%.1f"))
ax2.set_xlabel("Modified Julian Date", fontsize=LAB, **BOLD)
ax2.set_ylabel("residuals (ns)", fontsize=LAB, **BOLD)
ax2.xaxis.set_label_coords(0.5, -0.125)
ax2.yaxis.set_label_coords(-0.071, 0.5)
StyleAxes(ax2)

# ---- bottom left: modified Allan deviation
sns.scatterplot(x=tau_log, y=mdev_log, ax=ax3, color="black", s=80,
                linewidth=0, legend=False)
for t, v, lab in zip(tau_log, mdev_log, mdev_labels):
    ax3.text(t, v + 0.165, lab, color="red", ha="center", va="center",
             fontsize=15.5, **BOLD)
sns.scatterplot(x=span_log, y=[-15.5] * len(span_log), ax=ax3, color="black",
                s=40, linewidth=0, legend=False)
for t, name in zip(span_log, span_names):
    ax3.text(t, -15.343, name, color="red", ha="center", va="center",
             fontsize=15.5, **BOLD)
ax3.text(0.083, 0.92, "τ = 2401s,", transform=ax3.transAxes, fontsize=12,
         va="baseline", **BOLD)
ax3.set_xlim(3, 6)
ax3.set_ylim(-15.5, -11.5)
ax3.set_xticks([3, 4, 5, 6])
ax3.set_xticks([3.5, 4.5, 5.5], minor=True)
ax3.set_yticks([-12, -13, -14, -15])
ax3.set_yticks([-11.5, -12.5, -13.5, -14.5, -15.5], minor=True)
ax3.set_xlabel("Averaging time, log(τ) (s)", fontsize=LAB, **BOLD)
ax3.set_ylabel(r"Modified Allan Deviation (10$^{\mathbf{-15}}$)", fontsize=LAB, **BOLD)
ax3.xaxis.set_label_coords(0.5, -0.116)
ax3.yaxis.set_label_coords(-0.148, 0.5)
StyleAxes(ax3, ylen=5.5, ypad=14)
ax3.tick_params(axis="x", pad=6.5)

# ---- bottom right: time deviation
sns.scatterplot(x=tau_log, y=tdev_log, ax=ax4, color="black", s=80,
                linewidth=0, legend=False)
for t, v, lab in zip(tau_log, tdev_log, tdev_labels):
    ax4.text(t, v + 0.12, lab, color="red", ha="center", va="center",
             fontsize=13, **BOLD)
sns.scatterplot(x=span_log, y=[-9.99] * len(span_log), ax=ax4, color="black",
                s=60, linewidth=0, legend=False)
for t, name in zip(span_log, span_names):
    ax4.text(t, -9.878, name, color="red", ha="center", va="center",
             fontsize=15.5, **BOLD)
ax4.set_xlim(2.75, 6)
ax4.set_ylim(-10, -8.5)
ax4.set_xticks([3, 4, 5, 6])
ax4.set_xticks([3.5, 4.5, 5.5], minor=True)
ax4.set_yticks([-9, -10])
ax4.set_yticks([-8.5, -9.5], minor=True)
ax4.set_xlabel("Averaging time, log(τ) (s)", fontsize=LAB, **BOLD)
ax4.set_ylabel(r"Time deviation (10$^{\mathbf{-10}}$ s)", fontsize=LAB, **BOLD)
ax4.xaxis.set_label_coords(0.5, -0.116)
ax4.yaxis.set_label_coords(-0.150, 0.5)
StyleAxes(ax4, ylen=9.5, ypad=10)
ax4.tick_params(axis="x", pad=6.5)

fig.savefig("out.png", dpi=100)
